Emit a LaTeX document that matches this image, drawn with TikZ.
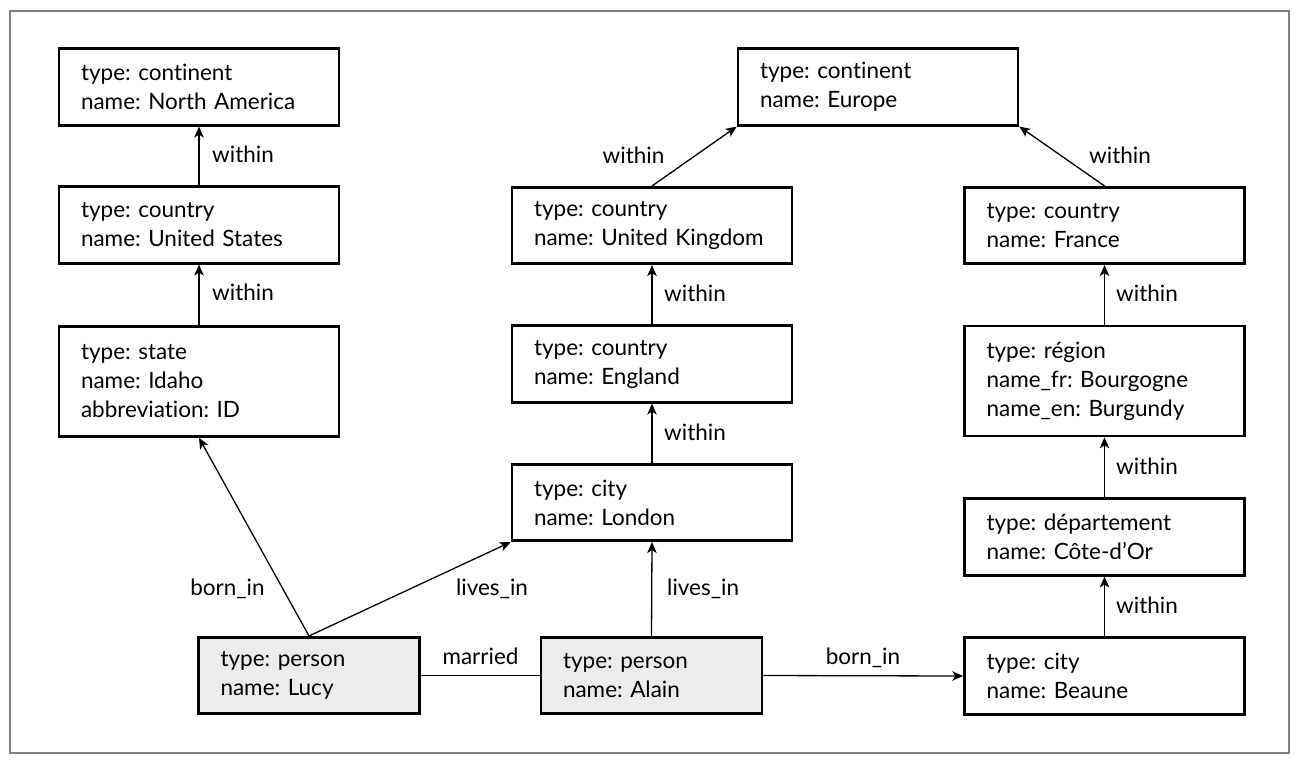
\documentclass[tikz,border=0pt]{standalone}
\usepackage{fontspec}
\setmainfont{Lato}[Ligatures=NoCommon]
\usetikzlibrary{arrows.meta}
\definecolor{persongray}{RGB}{236,236,236}
\definecolor{framegray}{RGB}{128,128,128}
\newcommand{\boxfont}{\fontsize{22.5}{29}\selectfont\frenchspacing}
\tikzset{
  gbox/.style={draw, line width=2.6pt, minimum height=76.5pt, inner xsep=22pt, inner ysep=0pt,
               text width=#1, align=left, font=\boxfont},
  gbox/.default=236pt,
  pbox/.style={gbox=177pt, fill=persongray},
  conn/.style={line width=1.3pt, -{Stealth[length=11pt,width=9.5pt,inset=3pt]}},
  plain/.style={line width=1.3pt},
  lbl/.style={font=\boxfont, inner sep=0pt, anchor=base west},
  lblc/.style={font=\boxfont, inner sep=0pt, anchor=base}
}
\begin{document}
\begin{tikzpicture}[x=1pt,y=-1pt]
\useasboundingbox (0,0) rectangle (1306,772);
\draw[framegray, line width=1.2pt] (10,11) rectangle (1289,753);

% left column
\node[gbox] (na) at (199,87) {type: continent\\name: North America};
\node[gbox] (us) at (199,225) {type: country\\name: United States};
\node[gbox, minimum height=110pt] (idaho) at (199,381.5) {type: state\\name: Idaho\\abbreviation: ID};

% middle column
\node[gbox] (eu) at (878,87) {type: continent\\name: Europe};
\node[gbox] (uk) at (652,225.5) {type: country\\name: United Kingdom};
\node[gbox] (eng) at (652,364) {type: country\\name: England};
\node[gbox] (lon) at (652,502.5) {type: city\\name: London};

% right column
\node[gbox] (fr) at (1104.5,225.5) {type: country\\name: France};
\node[gbox, minimum height=110pt] (reg) at (1104.5,381) {type: région\\name\_fr: Bourgogne\\name\_en: Burgundy};
\node[gbox] (dep) at (1104.5,537) {type: département\\name: Côte-d’Or};
\node[gbox] (bea) at (1104.5,676) {type: city\\name: Beaune};

% persons
\node[pbox] (lucy) at (309,675.5) {type: person\\name: Lucy};
\node[pbox] (alain) at (651.5,675.5) {type: person\\name: Alain};

% connectors
\draw[conn] (us.north) -- (na.south);
\draw[conn] (idaho.north) -- (us.south);
\draw[conn] (uk.north) -- (eu.south west);
\draw[conn] (fr.north) -- (eu.south east);
\draw[conn] (eng.north) -- (uk.south);
\draw[conn] (lon.north) -- (eng.south);
\draw[conn] (reg.north) -- (fr.south);
\draw[conn] (dep.north) -- (reg.south);
\draw[conn] (bea.north) -- (dep.south);
\draw[conn] (lucy.north) -- (idaho.south);
\draw[conn] (lucy.north) -- (lon.south west);
\draw[conn] (alain.north) -- (lon.south);
\draw[plain] (lucy.east) -- (alain.west);
\draw[conn] (alain.east) -- (bea.west);

% labels
\node[lbl] (l1) at (212,162) {within};
\node[lbl] (l2) at (212,300) {within};
\node[lblc] (l3) at (633.5,163) {within};
\node[lblc] (l4) at (1120,163) {within};
\node[lbl] (l5) at (664,301) {within};
\node[lbl] (l6) at (664,440) {within};
\node[lbl] (l7) at (1116,301) {within};
\node[lbl] (l8) at (1116,474) {within};
\node[lbl] (l9) at (1116,613) {within};
\node[lblc] (l10) at (227.5,595) {born\_in};
\node[lblc] (l11) at (492,595) {lives\_in};
\node[lbl] (l12) at (667,595) {lives\_in};
\node[lblc] (l13) at (480.5,664) {married};
\node[lblc] (l14) at (863,664) {born\_in};
\end{tikzpicture}
\end{document}
